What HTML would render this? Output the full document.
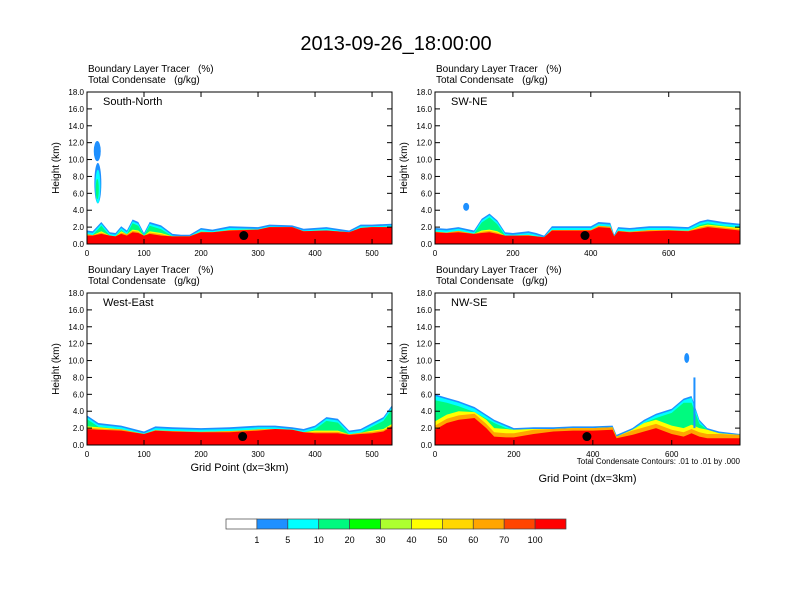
<!DOCTYPE html>
<html><head><meta charset="utf-8"><style>
body{margin:0;background:#fff}
svg{display:block;font-family:"Liberation Sans",sans-serif}
</style></head><body>
<svg id="c" width="792" height="612" viewBox="0 0 792 612">
<text x="396" y="50" text-anchor="middle" font-size="20">2013-09-26_18:00:00</text>
</svg>
<script>
// ---- data ----
const yTicks = [0,2,4,6,8,10,12,14,16,18];
const snX = [0,10,25,40,50,60,70,80,90,100,110,130,150,165,180,200,220,250,300,320,360,380,420,460,480,500,535];
const snBlue = [1.6,1.5,2.6,1.4,1.3,2.1,1.6,2.9,2.6,1.3,2.6,2.2,1.2,1.1,1.1,1.9,1.7,2.1,2.0,2.3,2.2,1.8,2.0,1.6,2.3,2.3,2.4];
const snRed  = [1.0,1.0,1.2,1.0,0.9,1.2,1.0,1.4,1.3,1.0,1.2,1.0,0.9,0.9,0.9,1.4,1.4,1.6,1.7,2.0,2.0,1.5,1.6,1.4,1.9,2.0,2.0];
const swX = [0,30,60,100,120,140,160,180,200,240,260,280,300,400,420,450,460,470,500,550,600,650,680,700,740,783];
const swBlue = [1.9,1.8,2.0,1.6,3.0,3.6,2.8,1.4,1.3,1.5,1.3,1.0,2.1,2.1,2.6,2.5,1.1,2.0,1.9,2.1,2.1,2.0,2.7,2.9,2.6,2.4];
const swRed  = [1.4,1.3,1.4,1.2,1.3,1.4,1.2,1.0,1.0,1.0,0.9,0.8,1.6,1.6,2.0,1.9,0.9,1.5,1.4,1.5,1.6,1.5,1.8,2.0,1.8,1.6];
const weX = [0,20,60,100,120,150,200,250,300,330,360,380,400,420,440,460,480,500,520,535];
const weBlue = [3.5,2.6,2.3,1.6,2.2,2.1,2.0,2.1,2.3,2.3,2.1,1.9,2.3,3.3,3.1,1.7,1.9,2.6,3.3,4.7];
const weRed  = [1.9,1.8,1.7,1.3,1.7,1.6,1.5,1.5,1.7,1.9,1.8,1.5,1.4,1.4,1.4,1.2,1.3,1.4,1.6,2.2];
const nwX = [0,30,60,100,130,150,180,200,250,300,350,400,450,460,500,530,560,600,630,650,670,690,720,773];
const nwBlue = [6.0,5.6,5.2,4.5,3.6,3.0,2.4,2.0,2.1,2.1,2.2,2.2,2.3,1.2,2.0,3.0,3.7,4.3,5.5,5.8,3.0,2.0,1.6,1.3];
const nwGreen= [5.3,5.0,4.6,3.9,3.1,2.6,2.0,1.8,1.9,1.9,2.0,2.0,2.1,1.0,1.8,2.6,3.2,3.8,5.0,5.0,2.5,1.8,1.4,1.2];
const nwRed  = [1.8,2.6,3.0,3.2,2.0,1.0,0.9,0.9,1.3,1.6,1.7,1.7,1.8,0.8,1.2,1.6,2.0,1.3,1.0,1.4,1.0,0.8,0.8,0.8];
const cbLabels = ["1","5","10","20","30","40","50","60","70","100"];
const cbColors = ["#ffffff","#1e90ff","#00ffff","#00fa7f","#00ff00","#adff2f","#ffff00","#ffd700","#ffa500","#ff4500","#ff0000"];

const svg = document.getElementById('c');
const NS = 'http://www.w3.org/2000/svg';
function mk(tag, attrs, parent){const e=document.createElementNS(NS,tag);for(const k in attrs)e.setAttribute(k,attrs[k]);(parent||svg).appendChild(e);return e;}

const panels = [
 {name:'South-North',x0:87,y0:92,xmax:535,xt:[0,100,200,300,400,500],X:snX,B:snBlue,R:snRed,G:null,dot:275,slug:'south-north'},
 {name:'SW-NE',x0:435,y0:92,xmax:783,xt:[0,200,400,600],X:swX,B:swBlue,R:swRed,G:null,dot:385,slug:'sw-ne'},
 {name:'West-East',x0:87,y0:293,xmax:535,xt:[0,100,200,300,400,500],X:weX,B:weBlue,R:weRed,G:null,dot:273,slug:'west-east'},
 {name:'NW-SE',x0:435,y0:293,xmax:773,xt:[0,200,400,600],X:nwX,B:nwBlue,R:nwRed,G:nwGreen,dot:385,slug:'nw-se'}
];
const W=305,H=152;
panels.forEach(p=>{
  const g=mk('g',{});
  
  
  const sx=v=>p.x0+v/p.xmax*W, sy=v=>p.y0+H-v/18*H;
  const t1=mk('text',{x:p.x0+1,y:p.y0-20,'font-size':10},g);t1.textContent='Boundary Layer Tracer\u00a0\u00a0\u00a0(%)';
  
  
  const t2=mk('text',{x:p.x0+1,y:p.y0-9,'font-size':10},g);t2.textContent='Total Condensate\u00a0\u00a0\u00a0(g/kg)';
  
  
  // bands
  const G = p.G || p.B.map((b,i)=>Math.max(p.R[i],b-0.45));
  const layers=[
    ['#1e90ff',p.B],
    ['#00ffff',p.B.map((b,i)=>Math.max(G[i],b-0.2))],
    ['#00fa7f',G],
    ['#ffff00',G.map((v,i)=>Math.min(v,p.R[i]+(p.G?1.0:0.3)))],
    ['#ffa500',G.map((v,i)=>Math.min(v,p.R[i]+(p.G?0.5:0.15)))],
    ['#ff0000',p.R]
  ];
  layers.forEach((L,li)=>{
    let d='M'+sx(p.X[0])+','+sy(0);
    p.X.forEach((x,i)=>{d+=' L'+sx(x).toFixed(1)+','+sy(L[1][i]).toFixed(1);});
    d+=' L'+sx(p.X[p.X.length-1])+','+sy(0)+' Z';
    const e=mk('path',{d:d,fill:L[0]},g);
    
    
  });
  if(p.slug==='south-north'){
    [['#1e90ff',18,11,3.5,1.2],['#1e90ff',19,7.2,3.5,2.4],['#00ffff',19,6.8,2.5,2],['#00fa7f',18,6.5,1.5,1.2]].forEach(b=>{
      const e=mk('ellipse',{cx:sx(b[1]),cy:sy(b[2]),rx:b[3],ry:b[4]/18*H,fill:b[0]},g);
      
      });
  }
  if(p.slug==='sw-ne'){
    const e=mk('ellipse',{cx:sx(80),cy:sy(4.4),rx:3,ry:4,fill:'#1e90ff'},g);
    
    
  }
  if(p.slug==='nw-se'){
    const e=mk('ellipse',{cx:sx(638),cy:sy(10.3),rx:2.5,ry:5,fill:'#1e90ff'},g);
    
    
    const f=mk('rect',{x:sx(655),y:sy(8),width:2,height:sy(2)-sy(8),fill:'#1e90ff'},g);
    
    
  }
  const dt=mk('circle',{cx:sx(p.dot),cy:sy(1.0),r:4.5,fill:'#000'},g);
  
  
  const fr=mk('rect',{x:p.x0,y:p.y0,width:W,height:H,fill:'none',stroke:'#000','stroke-width':1},g);
  
  
  yTicks.forEach(v=>{
    const y=sy(v);
    mk('line',{x1:p.x0,x2:p.x0+5,y1:y,y2:y,stroke:'#000'},g);
    mk('line',{x1:p.x0+W,x2:p.x0+W-5,y1:y,y2:y,stroke:'#000'},g);
    const t=mk('text',{x:p.x0-3,y:y+3,'font-size':8,'text-anchor':'end'},g);t.textContent=v.toFixed(1);
    
    
  });
  p.xt.forEach(v=>{
    const x=sx(v);
    mk('line',{x1:x,x2:x,y1:p.y0+H,y2:p.y0+H-5,stroke:'#000'},g);
    mk('line',{x1:x,x2:x,y1:p.y0,y2:p.y0+5,stroke:'#000'},g);
    const t=mk('text',{x:x,y:p.y0+H+12,'font-size':8,'text-anchor':'middle'},g);t.textContent=v;
    
    
  });
  const yt=mk('text',{x:0,y:0,'font-size':10,'text-anchor':'middle',transform:`translate(${p.x0-28},${p.y0+H/2}) rotate(-90)`},g);
  yt.textContent='Height (km)';
  
  
  const pn=mk('text',{x:p.x0+16,y:p.y0+13,'font-size':11},g);pn.textContent=p.name;
  
  
  if(p.y0>200){
    const xt=mk('text',{x:p.x0+W/2,y:p.slug==='nw-se'?482:471,'font-size':11,'text-anchor':'middle'},g);xt.textContent='Grid Point (dx=3km)';
    
    
  }
  if(p.slug==='nw-se'){
    const c=mk('text',{x:p.x0+W,y:p.y0+H+19,'font-size':8,'text-anchor':'end'},g);c.textContent='Total Condensate Contours: .01 to .01 by .000';
    
    
  }
});
// colorbar
const cb=mk('g',{});


const cbx=226,cbw=340/cbColors.length;
cbColors.forEach((col,i)=>{
  const r=mk('rect',{x:cbx+i*cbw,y:519,width:cbw,height:10,fill:col,stroke:'#444','stroke-width':0.7},cb);
  
  
});
cbLabels.forEach((l,i)=>{
  const t=mk('text',{x:cbx+(i+1)*cbw,y:543,'font-size':9,'text-anchor':'middle'},cb);t.textContent=l;
  
  
});
</script>
</body></html>
